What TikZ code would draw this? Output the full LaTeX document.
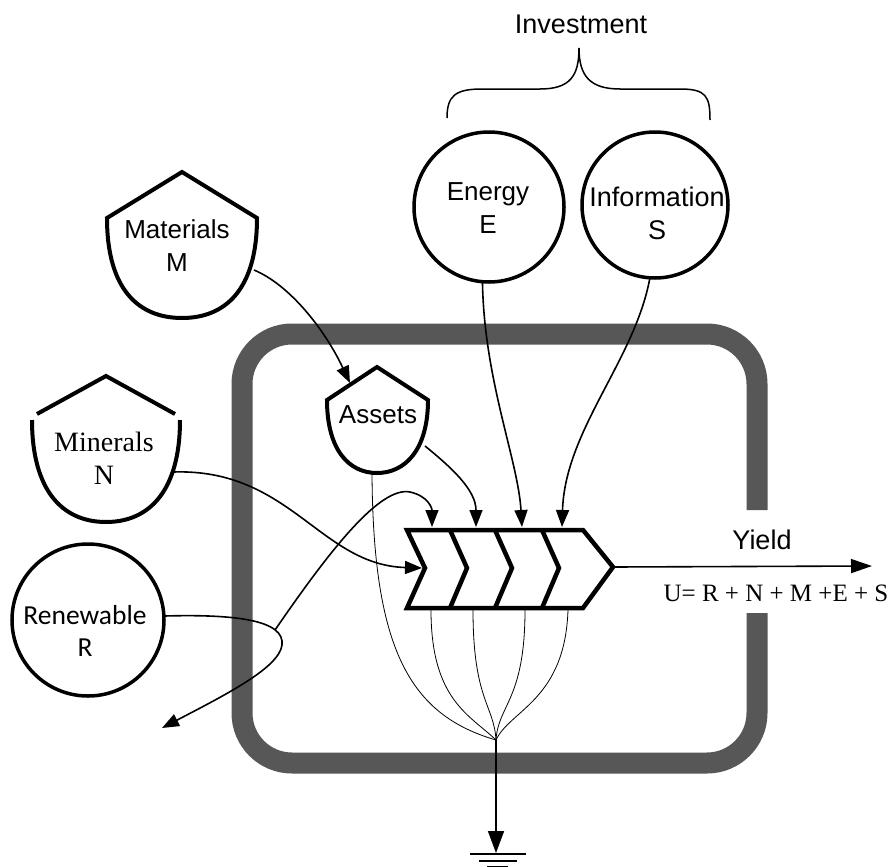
\documentclass[tikz,border=0pt]{standalone}
\usepackage{fontspec}
\usetikzlibrary{arrows.meta}
\newfontfamily\sfA{Liberation Sans}
\newfontfamily\serA{Liberation Serif}
\newfontfamily\carl{Carlito}
\definecolor{wallgray}{HTML}{575757}
\begin{document}
\begin{tikzpicture}[x=1pt,y=-1pt,
  lbl/.style={font=\sfA\fontsize{26}{33}\selectfont, align=center, inner sep=0pt},
  circ/.style={circle, draw, line width=3.5pt, inner sep=0pt, outer sep=0pt},
  shield/.style={draw, line width=4pt, line join=miter},
  flow/.style={line width=1.6pt, -{Triangle[length=17pt,width=13pt]}},
  heat/.style={line width=0.8pt},
  wall/.style={draw=wallgray, line width=21pt, rounded corners=50pt},
  chev/.style={line width=4.5pt, line join=miter},
]
\useasboundingbox (0,0) rectangle (894,867);
\fill[white] (0,0) rectangle (894,867);

% container wall
\draw[wall] (757,613) -- (757,763) -- (242,763) -- (242,334) -- (757,334) -- (757,510);

% investment brace
\draw[line width=1.5pt] (447,118) .. controls (447,96) and (455,89) .. (482,89) -- (540,89)
  .. controls (570,89) and (579,76) .. (579,48)
  .. controls (579,76) and (590,89) .. (620,89) -- (680,89)
  .. controls (706,89) and (710,96) .. (710,120);
\node[lbl, font=\sfA\fontsize{27}{33}\selectfont] (inv) at (581,24) {Investment};

% circles
\node[circ, minimum size=150pt] (E) at (489,207) {};
\node[circ, minimum size=146pt] (I) at (655,205) {};
\node[circ, minimum size=152pt] (R) at (88,620) {};
\node[lbl] (Et) at (488,208.5) {Energy\\E};
\node[lbl, font=\sfA\fontsize{27}{33}\selectfont] (It) at (657,213.5) {Information\\S};
\node[lbl, font=\carl\fontsize{27.5}{32}\selectfont] (Rt) at (85,631) {Renewable\\R};

% shields
\draw[shield] (182,172) -- (257,218) .. controls (257,290) and (225,318) .. (182,318)
  .. controls (139,318) and (107,290) .. (107,218) -- cycle;
\node[lbl] (Mt) at (177,246) {Materials\\M};

\draw[shield] (37,414) -- (106,376) -- (175,414);
\draw[shield] (180,420) .. controls (180,490) and (150,522) .. (106,522)
  .. controls (62,522) and (32,490) .. (32,420);
\node[lbl, font=\serA\fontsize{28}{33}\selectfont] (Nt) at (104,458.5) {Minerals\\N};

\draw[shield] (377,367) -- (428,400) .. controls (428,450) and (405,473) .. (377,473)
  .. controls (349,473) and (327,450) .. (327,400) -- cycle;
\node[lbl] (At) at (378,415) {Assets};

% interaction (chevrons)
\draw[chev] (407,530) -- (583,530) -- (613,567) -- (583,608) -- (407,608) -- (425,568) -- cycle;
\draw[chev] (450,530) -- (467,568) -- (450,608);
\draw[chev] (495,530) -- (512,568) -- (495,608);
\draw[chev] (542,530) -- (559,568) -- (542,608);

\coordinate (tip) at (613,567);
\coordinate (a1) at (432,527);
\coordinate (a2) at (476,527);
\coordinate (a3) at (522,527);
\coordinate (a4) at (562,527);
\coordinate (n0) at (422,568);
\coordinate (b1) at (431,610);
\coordinate (b2) at (473,610);
\coordinate (b3) at (525,610);
\coordinate (b4) at (568,610);

% connectors
\coordinate (matout) at (254,270);
\coordinate (astin) at (350,383);
\draw[flow] (matout) .. controls (290,285) and (325,330) .. (astin);

\coordinate (astout) at (425,446);
\draw[flow] (astout) .. controls (452,468) and (476,490) .. (a2);

\draw[flow] (E.-95) .. controls (484,380) and (518,460) .. (a3);
\draw[flow] (I.-94) .. controls (635,360) and (565,430) .. (a4);

\coordinate (minout) at (173,472);
\draw[flow] (minout) .. controls (290,468) and (320,565) .. (n0);

\coordinate (loop) at (275,630);
\coordinate (renend) at (162,728);
\draw[flow] (R.3) .. controls (235,614) and (285,620) .. (282,645)
  .. controls (279,668) and (225,695) .. (renend);
\draw[flow] (loop) .. controls (330,550) and (380,486) .. (410,492)
  .. controls (428,496) and (432,508) .. (a1);

% heat sink
\coordinate (conv) at (496,740);
\coordinate (astbot) at (372,473);
\draw[heat] (astbot) .. controls (373,650) and (410,715) .. (conv);
\draw[heat] (b1) .. controls (431,700) and (470,715) .. (conv);
\draw[heat] (b2) .. controls (473,700) and (494,705) .. (conv);
\draw[heat] (b3) .. controls (525,700) and (498,705) .. (conv);
\draw[heat] (b4) .. controls (565,700) and (510,710) .. (conv);
\coordinate (gnd) at (496,853);
\draw[line width=1.6pt, -{Triangle[length=22pt,width=16pt]}] (conv) -- (gnd);
\draw[line width=2pt] (470,854) -- (526,854);
\draw[line width=2pt] (479,861) -- (517,861);
\draw[line width=2pt] (487,867) -- (508,867);

% yield
\coordinate (yend) at (872,566);
\draw[line width=1.6pt, -{Triangle[length=21pt,width=14pt]}] (tip) -- (yend);
\node[lbl, font=\sfA\fontsize{27}{33}\selectfont] (yl) at (762,540) {Yield};
\node[lbl, font=\serA\fontsize{25}{30}\selectfont] (eq) at (776,593) {U= R + N + M +E + S};
\end{tikzpicture}
\end{document}
